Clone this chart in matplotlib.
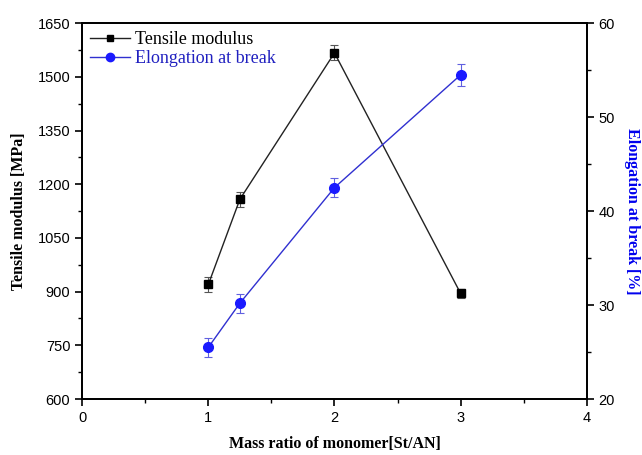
import numpy as np
import matplotlib
matplotlib.use('Agg')
import matplotlib.pyplot as plt
from matplotlib.ticker import MultipleLocator
from matplotlib.lines import Line2D

# data
ratio = [1, 1.25, 2, 3]
modulus = [920, 1158, 1567, 895]
modulus_err = [20, 21, 21, 13]
elongation = [25.5, 30.2, 42.5, 54.5]
elongation_err = [1.0, 1.0, 1.0, 1.2]

plt.rcParams['font.family'] = ['Liberation Sans', 'DejaVu Sans']

fig = plt.figure(figsize=(6.42, 4.55), dpi=100)
ax1 = fig.add_axes([0.128, 0.123, 0.786, 0.826])
ax2 = ax1.twinx()

blue = '#1a1aff'

ax1.errorbar(ratio, modulus, yerr=modulus_err, color='#222222', lw=1,
             marker='s', ms=6, mfc='black', mec='black',
             ecolor='#555555', elinewidth=0.8, capsize=3, capthick=0.8)
ax2.errorbar(ratio, elongation, yerr=elongation_err, color='#3030d0', lw=1,
             marker='o', ms=7, mfc=blue, mec=blue,
             ecolor='#6060e0', elinewidth=0.8, capsize=3, capthick=0.8)

ax1.set_xlim(0, 4)
ax1.set_ylim(600, 1650)
ax2.set_ylim(20, 60)
ax1.xaxis.set_major_locator(MultipleLocator(1))
ax1.xaxis.set_minor_locator(MultipleLocator(0.5))
ax1.yaxis.set_major_locator(MultipleLocator(150))
ax1.yaxis.set_minor_locator(MultipleLocator(75))
ax2.yaxis.set_major_locator(MultipleLocator(10))
ax2.yaxis.set_minor_locator(MultipleLocator(5))

for ax in (ax1, ax2):
    for s in ax.spines.values():
        s.set_linewidth(1.3)
    ax.tick_params(which='major', direction='out', length=5, width=1.2, labelsize=10.5)
    ax.tick_params(which='minor', direction='out', length=3, width=1.0)
ax1.tick_params(axis='x', which='both', top=False)

serif = ['Liberation Serif', 'DejaVu Serif']
ax1.set_xlabel('Mass ratio of monomer[St/AN]', fontfamily=serif, fontweight='bold',
               fontsize=11.5, labelpad=8)
ax1.set_ylabel('Tensile modulus [MPa]', fontfamily=serif, fontweight='bold',
               fontsize=11.5, labelpad=8)
ax2.set_ylabel('Elongation at break [%]', fontfamily=serif, fontweight='bold',
               fontsize=11.5, color='#0000ee', rotation=270, labelpad=18)

h1 = Line2D([], [], color='#222222', lw=1, marker='s', ms=5, mfc='black', mec='black')
h2 = Line2D([], [], color='#3030d0', lw=1, marker='o', ms=6, mfc=blue, mec=blue)
leg = ax1.legend([h1, h2], ['Tensile modulus', 'Elongation at break'],
                 loc='upper left', frameon=False, prop={'family': serif, 'size': 13},
                 handlelength=2.2, handletextpad=0.3, borderaxespad=0.05,
                 labelspacing=0.1)
leg.get_texts()[1].set_color('#2020c0')

fig.savefig('out.png', dpi=100)
